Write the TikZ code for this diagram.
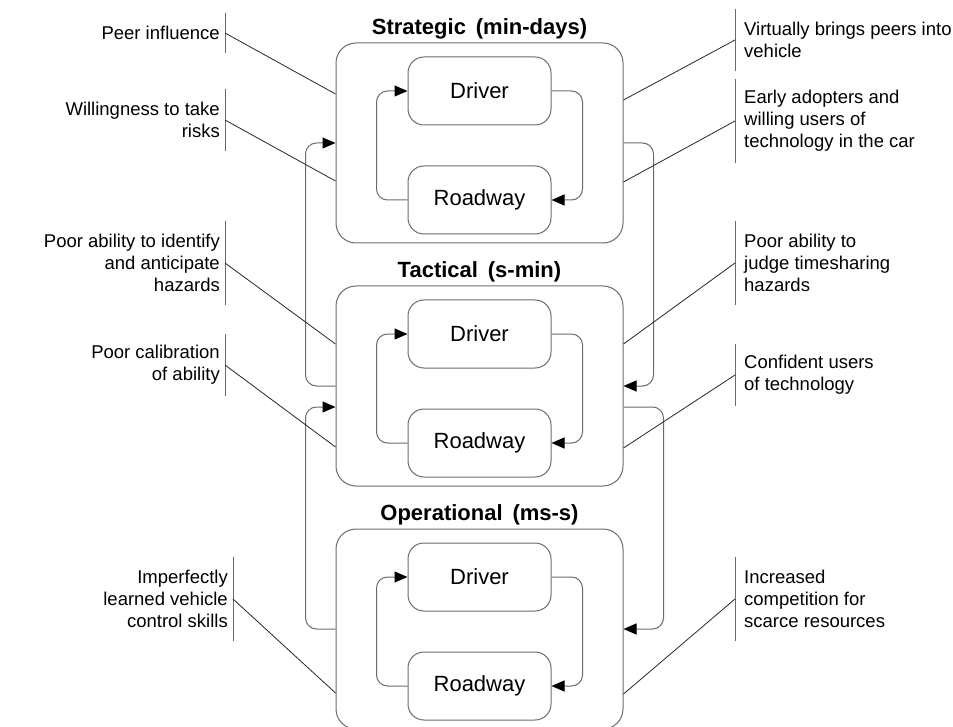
\documentclass[tikz,border=0pt]{standalone}
\usepackage{fontspec}
\setmainfont{Liberation Sans}
\usetikzlibrary{positioning, arrows.meta}
\definecolor{linegray}{gray}{0.42}
\newcommand{\notesize}{\fontsize{18.5}{22}\selectfont}
\newcommand{\agentsize}{\fontsize{22}{26}\selectfont}
\newcommand{\levelsize}{\fontsize{22}{26}\selectfont\bfseries\spaceskip=0.45em}

\begin{document}
\begin{tikzpicture}[x=1pt, y=-1pt,
		levelbox/.style={draw=linegray, line width=1pt, rounded corners=20pt, minimum width=287pt, minimum height=200pt},
		agentbox/.style={draw=linegray, line width=1pt, rounded corners=16pt, minimum width=143pt, minimum height=68pt, font=\agentsize},
		leveltitle/.style={font=\levelsize, inner sep=3pt},
		flow/.style={draw=linegray, line width=1pt, rounded corners=11pt, -{Triangle[length=13pt, width=11pt, color=black]}},
		leftnote/.style={anchor=east, align=right, font=\notesize, inner xsep=5pt, inner ysep=0pt},
		rightnote/.style={anchor=west, align=left, font=\notesize, inner xsep=9pt, inner ysep=0pt},
		oneline/.style={minimum height=40pt}, twolines/.style={minimum height=62pt}, threelines/.style={minimum height=84pt},
		bar/.style={draw=linegray, line width=1pt},
		pointer/.style={draw=black!85, line width=0.8pt}]
			\useasboundingbox (0,0) rectangle (953,727);
			\node [levelbox] (strat) at (479.5,143) {};
			\node [levelbox, below=42pt of strat] (tact) {};
			\node [levelbox, below=42pt of tact] (oper) {};
			\node [leveltitle, above=0pt of strat] (stratttl) {Strategic (min-days)};
			\node [leveltitle, above=0pt of tact] (tactttl) {Tactical (s-min)};
			\node [leveltitle, above=0pt of oper] (operttl) {Operational (ms-s)};
			\node [agentbox, below=14pt of strat.north] (drvS) {Driver};
			\node [agentbox, below=40pt of drvS] (roadS) {Roadway};
			\node [agentbox, below=14pt of tact.north] (drvT) {Driver};
			\node [agentbox, below=40pt of drvT] (roadT) {Roadway};
			\node [agentbox, below=14pt of oper.north] (drvO) {Driver};
			\node [agentbox, below=40pt of drvO] (roadO) {Roadway};
			\foreach \lv in {S,T,O}{
				\draw [flow] (drv\lv.east) -- ++(31,0) |- (road\lv.east);
				\draw [flow] (road\lv.west) -- ++(-31,0) |- (drv\lv.west);
			}
			\draw [flow] (strat.east) -- ++(30,0) |- (tact.east);
			\draw [flow] (tact.west) -- ++(-30,0) |- (strat.west);
			\draw [flow] ([yshift=-21pt]tact.east) -- ++(40,0) |- (oper.east);
			\draw [flow] (oper.west) -- ++(-30,0) |- ([yshift=-21pt]tact.west);
			\node [leftnote, oneline] (peer) at (225,33) {Peer influence};
			\node [leftnote, twolines] (risk) at (225,120) {Willingness to take\\risks};
			\node [leftnote, threelines] (anticip) at (225,263) {Poor ability to identify\\and anticipate\\hazards};
			\node [leftnote, twolines] (calib) at (225,365) {Poor calibration\\of ability};
			\node [leftnote, threelines] (skills) at (233,599) {Imperfectly\\learned vehicle\\control skills};
			\node [rightnote, twolines] (vbring) at (735,40) {Virtually brings peers into\\vehicle};
			\node [rightnote, threelines] (adopt) at (735,121) {Early adopters and\\willing users of\\technology in the car};
			\node [rightnote, threelines] (timeshare) at (735,263) {Poor ability to\\judge timesharing\\hazards};
			\node [rightnote, twolines] (confid) at (735,375) {Confident users\\of technology};
			\node [rightnote, threelines] (compete) at (735,599) {Increased\\competition for\\scarce resources};
			\foreach \lab/\lvl/\dy in {peer/strat/49, risk/strat/-38, anticip/tact/42, calib/tact/-61, skills/oper/-64}{
				\draw [bar] (\lab.north east) -- (\lab.south east);
				\draw [pointer] (\lab.east) -- ([yshift=\dy pt]\lvl.west);
			}
			\foreach \lab/\lvl/\dy in {vbring/strat/43, adopt/strat/-39, timeshare/tact/42, confid/tact/-62, compete/oper/-65}{
				\draw [bar] (\lab.north west) -- (\lab.south west);
				\draw [pointer] (\lab.west) -- ([yshift=\dy pt]\lvl.east);
			}
		\end{tikzpicture}
\end{document}
